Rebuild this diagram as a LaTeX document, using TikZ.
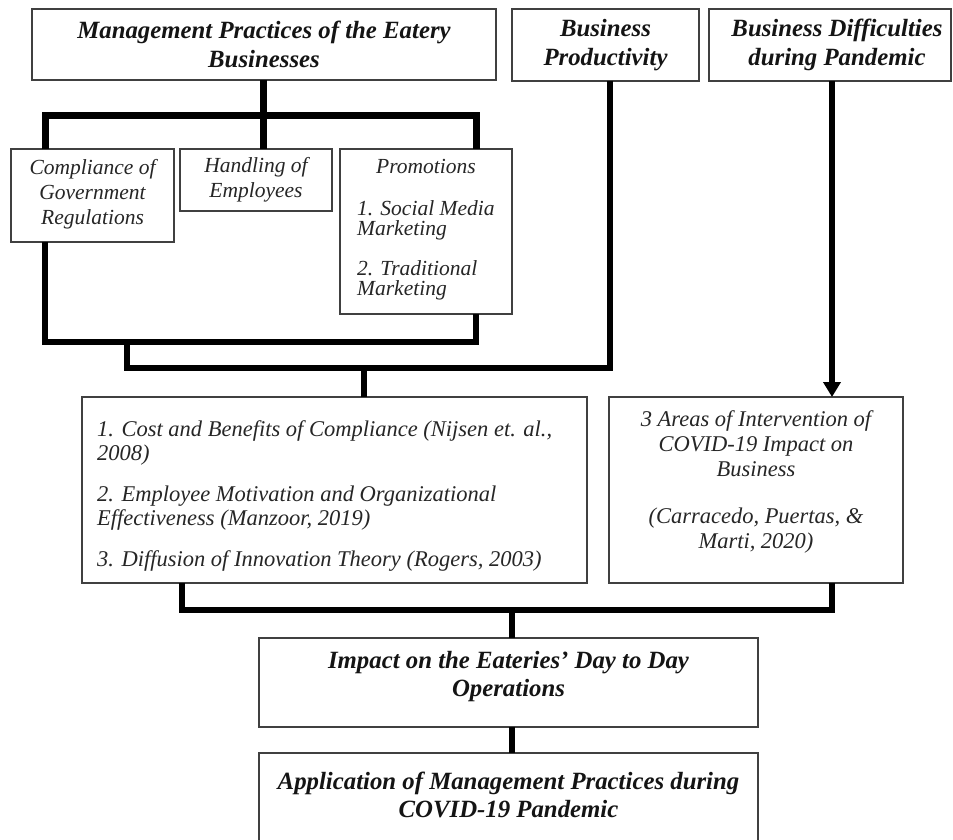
\documentclass[tikz,border=0pt]{standalone}
\usepackage{fontspec}
\setmainfont{Liberation Serif}
\usetikzlibrary{arrows.meta}
\begin{document}
\begin{tikzpicture}[x=1pt,y=-1pt,
  box/.style={draw=black!75, line width=1.5pt, inner sep=0pt, outer sep=0pt},
  head/.style={font=\fontsize{24.8}{29}\selectfont\bfseries\itshape, align=center, inner sep=0pt, text=black!92},
  small/.style={font=\fontsize{21.5}{25}\selectfont\itshape, inner sep=0pt, text=black!85},
  body/.style={font=\fontsize{22.5}{24}\selectfont\itshape, inner sep=0pt, text=black!85},
  conn/.style={line width=5.5pt, line join=miter},
  connT/.style={line width=7pt, line join=miter}]
\clip (0,0) rectangle (953,839);
\fill[white] (0,0) rectangle (953,839);

% boxes
\node[box, minimum width=464pt, minimum height=71pt] (mp) at (264,44.5) {};
\node[box, minimum width=187pt, minimum height=72pt] (bp) at (605.5,45) {};
\node[box, minimum width=242pt, minimum height=72pt] (bd) at (830,45) {};
\node[box, minimum width=163pt, minimum height=93pt] (comp) at (92.5,195.5) {};
\node[box, minimum width=152pt, minimum height=62pt] (hand) at (256,180) {};
\node[box, minimum width=172pt, minimum height=165pt] (promo) at (426,231.5) {};
\node[box, minimum width=505pt, minimum height=186pt] (theo) at (334.5,490) {};
\node[box, minimum width=294pt, minimum height=186pt] (areas) at (756,490) {};
\node[box, minimum width=499pt, minimum height=89pt] (impact) at (508.5,682.5) {};
\node[box, minimum width=499pt, minimum height=110pt] (app) at (508.5,808) {};

% texts
\node[head] (mpt) at (mp.center) {Management Practices of the Eatery\\Businesses};
\node[head] (bpt) at (bp.center) {Business\\Productivity};
\node[head] (bdt) at (837,45) {Business Difficulties\\during Pandemic};
\node[small, align=center, anchor=north] (compt) at (92.5,159) {Compliance of\\Government\\Regulations};
\node[small, align=center] (handt) at (256,180) {Handling of\\Employees};
\node[small, anchor=north] (promot) at (426,159) {Promotions};
\node[small, font=\fontsize{21.5}{20}\selectfont\itshape, align=left, anchor=north west] (promoi) at (357,200)
  {1. Social Media\\Marketing\\[20pt]2. Traditional\\Marketing};
\node[body, align=left, anchor=north west] (theot) at (97,420)
  {1. Cost and Benefits of Compliance (Nijsen et. al.,\\2008)\\[17pt]2. Employee Motivation and Organizational\\Effectiveness (Manzoor, 2019)\\[17pt]3. Diffusion of Innovation Theory (Rogers, 2003)};
\node[body, font=\fontsize{22.5}{25}\selectfont\itshape, align=center, anchor=north] (areast) at (756,410)
  {3 Areas of Intervention of\\COVID-19 Impact on\\Business\\[22pt](Carracedo, Puertas, \&\\Marti, 2020)};
\node[head, font=\fontsize{24.8}{28}\selectfont\bfseries\itshape, anchor=north] (impactt) at (508.5,651)
  {Impact on the Eateries’ Day to Day\\Operations};
\node[head, font=\fontsize{24.8}{28}\selectfont\bfseries\itshape, anchor=north] (appt) at (508.5,772)
  {Application of Management Practices during\\COVID-19 Pandemic};

% connectors
\coordinate (t1) at (45,115);
\coordinate (t2) at (476,115);
\coordinate (t3) at (263,115);
\draw[connT] (t1 |- comp.north) -- (t1) -- (t2) -- (t2 |- promo.north);
\draw[connT] (t3 |- mp.south) -- (t3 |- hand.north);

\coordinate (b1) at (45,342);
\coordinate (b2) at (476,342);
\draw[conn] (b1 |- comp.south) -- (b1) -- (b2) -- (b2 |- promo.south);

\coordinate (c1) at (127,342);
\coordinate (c2) at (127,368);
\coordinate (c3) at (610,368);
\coordinate (c4) at (364,368);
\draw[conn] (c1) -- (c2) -- (c3) -- (c3 |- bp.south);
\draw[conn] (c4) -- (c4 |- theo.north);

\coordinate (d1) at (832,368);
\draw[conn, -{Triangle[length=15pt,width=17pt]}] (d1 |- bd.south) -- (d1 |- areas.north);

\coordinate (e1) at (182,610);
\coordinate (e2) at (832,610);
\coordinate (e3) at (512,610);
\draw[conn] (e1 |- theo.south) -- (e1) -- (e2) -- (e2 |- areas.south);
\draw[conn] (e3) -- (e3 |- impact.north);
\draw[conn] (e3 |- impact.south) -- (e3 |- app.north);
\end{tikzpicture}
\end{document}
